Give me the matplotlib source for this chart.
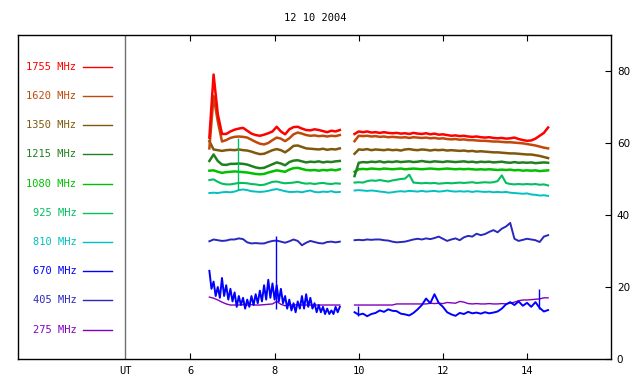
import matplotlib
matplotlib.use("Agg")
import matplotlib.pyplot as plt
import numpy as np

# ---- data ----
title = "12 10 2004"
freqs = ["1755", "1620", "1350", "1215", "1080", "925", "810", "670", "405", "275"]
colors = ["#ff0000", "#c04808", "#80580c", "#208020", "#00c000",
          "#00c060", "#00c0c0", "#0000ff", "#2828c0", "#8000c0"]

# time grids (UT hours): first block, second block, fine grid for the noisy 670 MHz trace
t1 = np.round(np.arange(6.45, 9.56, 0.1), 2)
t1_fine = np.round(np.arange(6.45, 9.56, 0.05), 2)
t2 = np.round(np.arange(9.9, 14.51, 0.1), 2)

f1755_a = [61.5, 79.0, 68.0, 62.5, 62.5, 63.2, 63.7, 64.0, 64.2, 63.4, 62.6, 62.2, 62.0, 62.3, 62.7, 63.2,
           64.5, 63.2, 62.4, 63.8, 64.4, 64.5, 64.0, 63.6, 63.5, 63.8, 63.6, 63.3, 63.0, 63.4, 63.2, 63.6]
f1755_b = [62.5, 63.2, 63.0, 63.2, 62.9, 63.0, 62.8, 63.0, 62.8, 62.7, 62.8, 62.6, 62.7, 62.5, 62.8, 62.6,
           62.5, 62.7, 62.4, 62.6, 62.3, 62.4, 62.2, 62.0, 62.1, 61.9, 62.0, 61.8, 61.7, 61.8, 61.6, 61.5,
           61.6, 61.4, 61.3, 61.4, 61.2, 61.3, 61.5, 61.1, 60.8, 60.6, 60.7, 61.2, 62.0, 62.8, 64.3]

f1620_a = [58.5, 73.0, 66.0, 60.4, 60.8, 61.4, 61.7, 61.8, 61.7, 61.5, 60.9, 60.3, 59.8, 59.6, 60.0, 60.8,
           61.5, 61.2, 60.5, 61.3, 62.4, 62.9, 62.6, 62.2, 62.0, 62.1, 61.9, 62.0, 61.8, 62.0, 61.9, 62.2]
f1620_b = [60.5, 62.0, 61.9, 62.0, 61.8, 61.9, 61.7, 61.8, 61.6, 61.7, 61.6, 61.5, 61.6, 61.4, 61.6, 61.5,
           61.4, 61.5, 61.3, 61.4, 61.2, 61.3, 61.1, 61.0, 61.1, 60.9, 61.0, 60.8, 60.8, 60.7, 60.6, 60.6,
           60.5, 60.4, 60.4, 60.3, 60.2, 60.2, 60.1, 60.0, 59.9, 59.7, 59.5, 59.3, 59.0, 58.7, 58.5]

f1350_a = [60.5, 58.2, 58.0, 57.8, 58.0, 58.1, 58.0, 58.2, 58.0, 57.9, 57.6, 57.2, 56.9, 57.0, 57.5, 58.0,
           58.3, 58.0, 57.4, 58.2, 59.2, 59.3, 58.9, 58.5, 58.4, 58.3, 58.2, 58.4, 58.1, 58.3, 58.2, 58.5]
f1350_b = [57.0, 58.2, 58.1, 58.3, 58.0, 58.2, 58.1, 58.0, 58.2, 58.0, 58.1, 57.9, 58.2, 58.3, 58.1, 58.0,
           58.2, 58.1, 57.9, 58.1, 58.0, 58.1, 57.9, 58.0, 57.9, 57.8, 57.9, 57.7, 57.8, 57.6, 57.7, 57.6,
           57.5, 57.4, 57.4, 57.3, 57.2, 57.1, 57.1, 57.0, 56.9, 56.8, 56.8, 56.6, 56.4, 56.1, 55.8]

f1215_a = [55.0, 56.8, 55.0, 54.0, 53.9, 54.2, 54.2, 54.3, 54.2, 54.0, 53.6, 53.2, 53.0, 53.1, 53.6, 54.1,
           54.6, 54.3, 53.8, 54.7, 55.1, 55.2, 54.9, 54.6, 54.8, 54.7, 54.9, 54.6, 54.8, 54.7, 54.9, 55.0]
f1215_b = [50.8, 54.5, 54.7, 54.6, 54.8, 54.7, 54.9, 54.6, 54.8, 54.7, 54.9, 54.7, 54.8, 54.9, 54.7, 54.8,
           55.0, 54.8, 54.7, 54.9, 54.8, 54.7, 54.9, 54.8, 54.7, 54.8, 54.9, 54.7, 54.8, 54.6, 54.8, 54.7,
           54.8, 54.6, 54.7, 54.8, 54.6, 54.5, 54.7, 54.5, 54.6, 54.5, 54.6, 54.4, 54.5, 54.6, 54.5]

f1080_a = [52.3, 52.4, 52.0, 51.7, 51.9, 52.0, 52.1, 52.0, 51.9, 51.8, 51.6, 51.4, 51.3, 51.4, 51.8, 52.1,
           52.4, 52.2, 52.0, 52.6, 53.0, 53.1, 52.8, 52.5, 52.4, 52.5, 52.3, 52.5, 52.4, 52.6, 52.4, 52.7]
f1080_b = [52.0, 52.7, 52.8, 52.7, 52.9, 52.8, 52.7, 52.9, 52.8, 52.7, 52.8, 52.9, 52.7, 52.8, 52.9, 52.8,
           52.7, 52.8, 52.9, 52.8, 52.7, 52.8, 52.9, 52.8, 52.7, 52.8, 52.7, 52.8, 52.7, 52.6, 52.7, 52.6,
           52.7, 52.6, 52.5, 52.6, 52.5, 52.6, 52.4, 52.5, 52.3, 52.4, 52.3, 52.4, 52.2, 52.3, 52.4]

f925_a = [49.7, 49.9, 49.2, 48.7, 48.5, 48.5, 48.7, 48.9, 48.9, 48.8, 48.6, 48.5, 48.3, 48.4, 48.8, 49.2,
          49.3, 49.0, 48.8, 48.9, 49.0, 49.2, 48.9, 48.7, 48.8, 48.6, 48.8, 48.9, 48.7, 48.6, 48.8, 48.7]
f925_b = [49.0, 49.1, 49.0, 49.4, 49.6, 49.5, 49.7, 49.5, 49.3, 49.6, 49.8, 50.0, 50.1, 51.2, 49.0, 48.9,
          48.8, 48.9, 48.8, 48.9, 48.7, 48.8, 48.9, 48.8, 48.9, 49.0, 48.9, 49.0, 49.1, 48.9, 49.0, 49.1,
          49.0, 49.1, 49.4, 51.0, 48.9, 48.6, 48.5, 48.6, 48.5, 48.6, 48.5, 48.6, 48.4, 48.5, 48.2]

f810_a = [46.1, 46.2, 46.1, 46.3, 46.4, 46.3, 46.5, 46.9, 47.1, 46.9, 46.6, 46.5, 46.4, 46.5, 46.7, 47.0,
          47.2, 46.9, 46.6, 46.4, 46.4, 46.5, 46.3, 46.6, 46.8, 46.4, 46.3, 46.5, 46.4, 46.6, 46.3, 46.4]
f810_b = [46.8, 46.9, 46.8, 46.7, 46.8, 46.7, 46.5, 46.4, 46.2, 46.3, 46.5, 46.6, 46.5, 46.7, 46.6, 46.5,
          46.7, 46.5, 46.6, 46.7, 46.5, 46.6, 46.8, 46.6, 46.5, 46.6, 46.5, 46.6, 46.4, 46.6, 46.5, 46.4,
          46.5, 46.3, 46.4, 46.3, 46.4, 46.2, 46.1, 46.0, 45.9, 46.0, 45.7, 45.6, 45.4, 45.5, 45.3]

f670_a = [24.5, 19.5, 21.5, 17.5, 20.0, 17.0, 22.5, 17.5, 20.5, 16.5, 19.5, 16.0, 18.5, 14.5, 17.5, 15.0,
          17.0, 14.0, 16.5, 14.5, 17.5, 15.0, 18.0, 15.5, 19.0, 16.0, 20.5, 16.5, 22.0, 17.0, 21.0, 16.5,
          20.5, 16.0, 19.5, 15.5, 17.5, 14.0, 16.5, 13.5, 15.5, 13.0, 16.0, 14.0, 17.5, 14.0, 18.0, 14.5,
          17.0, 14.0, 15.5, 13.0, 15.0, 13.0, 14.5, 12.5, 14.0, 12.5, 13.5, 12.5, 14.5, 13.0, 14.5]
f670_b = [13.0, 12.3, 12.6, 11.9, 12.5, 12.8, 13.5, 13.1, 13.8, 13.4, 13.3, 12.6, 12.4, 12.1, 12.8, 13.8,
          15.0, 16.8, 15.5, 18.0, 15.6, 14.5, 13.0, 12.4, 12.0, 12.8, 12.5, 13.1, 12.7, 12.9, 12.6, 13.0,
          12.7, 12.9, 13.2, 14.0, 15.2, 15.8, 15.0, 16.0, 14.8, 15.6, 14.5, 15.8, 14.2, 13.2, 13.6]

f405_a = [32.7, 33.2, 33.0, 32.8, 32.9, 33.2, 33.2, 33.5, 33.3, 32.4, 32.1, 32.2, 32.1, 32.1, 32.5, 32.8,
          32.9, 32.6, 32.3, 32.7, 33.2, 32.8, 31.6, 32.3, 32.8, 32.5, 32.2, 32.1, 32.5, 32.6, 32.4, 32.6]
f405_b = [33.0, 33.1, 33.0, 33.2, 33.1, 33.2, 33.2, 33.0, 32.9, 32.6, 32.4, 32.5, 32.6, 32.9, 33.2, 33.4,
          33.2, 33.5, 33.3, 33.6, 34.0, 33.4, 32.8, 33.2, 33.5, 33.0, 33.8, 34.2, 34.0, 34.8, 34.4, 34.7,
          35.3, 35.8, 35.2, 36.2, 36.8, 37.8, 33.4, 32.8, 33.1, 33.4, 33.2, 33.0, 32.5, 34.0, 34.4]

f275_a = [17.2, 16.9, 16.4, 15.8, 15.3, 15.0, 15.0, 15.0, 15.1, 15.0, 15.1, 15.0, 15.0, 15.1, 15.2, 15.3,
          16.0, 15.2, 14.8, 15.0, 15.0, 15.1, 15.0, 15.0, 15.0, 15.0, 15.0, 15.0, 15.0, 15.0, 15.0, 15.0]
f275_b = [15.0, 15.0, 15.0, 15.0, 15.0, 15.0, 15.0, 15.0, 15.0, 15.0, 15.3, 15.3, 15.3, 15.3, 15.3, 15.3,
          15.3, 15.3, 15.5, 15.4, 15.5, 15.4, 15.7, 15.6, 15.5, 16.0, 15.8, 15.4, 15.3, 15.4, 15.3, 15.3,
          15.4, 15.3, 15.3, 15.4, 15.3, 15.5, 15.8, 16.2, 16.4, 16.4, 16.5, 16.6, 16.7, 17.0, 17.0]

# short spikes: (time, low, high)
spikes_925 = [(7.14, 47.0, 61.5)]
spikes_670 = [(8.03, 14.0, 34.3), (14.28, 14.0, 19.5), (9.99, 12.0, 14.8)]

series = {
    "1755": (f1755_a, f1755_b), "1620": (f1620_a, f1620_b), "1350": (f1350_a, f1350_b),
    "1215": (f1215_a, f1215_b), "1080": (f1080_a, f1080_b), "925": (f925_a, f925_b),
    "810": (f810_a, f810_b), "670": (f670_a, f670_b), "405": (f405_a, f405_b),
    "275": (f275_a, f275_b),
}
widths = {"1755": 1.8, "1620": 1.8, "1350": 1.8, "1215": 1.8, "1080": 1.8, "925": 1.5,
          "810": 1.4, "670": 1.4, "405": 1.4, "275": 1.0}

mono = "DejaVu Sans Mono"
fig = plt.figure(figsize=(6.4, 3.84), dpi=100)
ax = fig.add_axes([0.028, 0.065, 0.927, 0.844])

# draw from lowest frequency up so the high ones sit on top
for name, col in zip(freqs[::-1], colors[::-1]):
    a, b = series[name]
    ta = t1_fine if name == "670" else t1
    ax.plot(ta, a, color=col, lw=widths[name])
    ax.plot(t2, b, color=col, lw=widths[name])

for t, lo, hi in spikes_925:
    ax.vlines(t, lo, hi, color=colors[5], lw=1.0)
for t, lo, hi in spikes_670:
    ax.vlines(t, lo, hi, color=colors[7], lw=1.0)

# legend column on the left
for i, (name, col) in enumerate(zip(freqs, colors)):
    y = 81.1 - 8.1 * i
    ax.text(3.29, y, f"{name} MHz", color=col, ha="right", va="center",
            fontsize=7.5, family=mono)
    ax.plot([3.45, 4.14], [y, y], color=col, lw=1.0)

ax.axvline(4.45, color="#707070", lw=1.0)

ax.set_xlim(1.9, 16.0)
ax.set_ylim(0, 90)
ax.set_xticks([4.45, 6, 8, 10, 12, 14])
ax.set_xticklabels(["UT", "6", "8", "10", "12", "14"], family=mono, fontsize=7.5)
ax.tick_params(axis="x", direction="in", top=True, length=4, pad=5)
ax.xaxis.get_major_ticks()[0].tick1line.set_visible(False)
ax.xaxis.get_major_ticks()[0].tick2line.set_visible(False)

ax.yaxis.tick_right()
ax.set_yticks([0, 20, 40, 60, 80])
ax.tick_params(axis="y", direction="in", length=4, pad=4, labelsize=7.5)

for s in ax.spines.values():
    s.set_linewidth(1.0)

fig.text(0.492, 0.953, title, ha="center", va="center", fontsize=7.5, family=mono)

fig.savefig("out.png", dpi=100)
